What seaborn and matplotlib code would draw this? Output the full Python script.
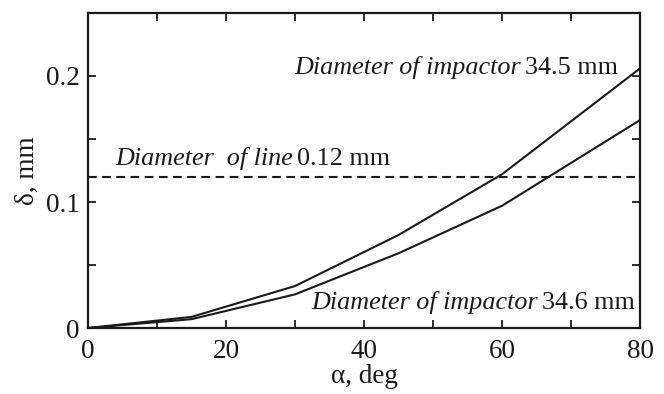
import numpy as np
import pandas as pd
import matplotlib
matplotlib.use('Agg')
import matplotlib.pyplot as plt
import seaborn as sns
from matplotlib.ticker import MultipleLocator

# values
alpha = [0, 15, 30, 45, 60, 80]
delta_345 = [0, 0.0088, 0.0333, 0.0738, 0.122, 0.206]
delta_346 = [0, 0.0070, 0.0267, 0.0593, 0.097, 0.165]
line_diam = 0.12

df = pd.DataFrame({
    'alpha': alpha * 2,
    'delta': delta_345 + delta_346,
    'impactor': ['34.5'] * len(alpha) + ['34.6'] * len(alpha),
})

sns.set_style('ticks')
plt.rcParams['font.family'] = ['Liberation Serif']
ink = '#1a1a1a'
fs_tick = 19.5
fs_note = 18.8

fig = plt.figure(figsize=(6.64, 3.94), dpi=100)
ax = fig.add_axes([88 / 664, 1 - 328 / 394, 552 / 664, 315 / 394])

sns.lineplot(data=df, x='alpha', y='delta', units='impactor', estimator=None,
             color=ink, lw=1.5, ax=ax)
ax.axhline(line_diam, color=ink, lw=1.5, ls=(0, (4.2, 2.6)))

ax.set_xlim(0, 80)
ax.set_ylim(0, 0.25)
ax.xaxis.set_major_locator(MultipleLocator(20))
ax.xaxis.set_minor_locator(MultipleLocator(10))
ax.yaxis.set_major_locator(MultipleLocator(0.1))
ax.yaxis.set_minor_locator(MultipleLocator(0.05))
ax.xaxis.set_major_formatter(plt.FuncFormatter(lambda v, p: f'{v:g}'))
ax.yaxis.set_major_formatter(plt.FuncFormatter(lambda v, p: f'{v:g}'))
ax.tick_params(which='both', direction='in', top=True, right=True,
               length=6, width=1.3, color=ink, labelsize=fs_tick,
               labelcolor=ink)
ax.tick_params(axis='x', pad=8)
ax.tick_params(axis='y', pad=6)
for s in ax.spines.values():
    s.set_linewidth(1.6)
    s.set_color(ink)

ax.set_xlabel('α, deg', fontsize=fs_tick, color=ink, labelpad=0)
ax.set_ylabel('δ, mm', fontsize=fs_tick, color=ink, labelpad=4)


def label(x, y, italic, plain, ha):
    # italic part + upright part, sharing one baseline
    if ha == 'right':
        t = ax.text(x, y, plain, fontsize=fs_note, ha='right', va='bottom', color=ink)
        ax.annotate(italic, xy=(0, 0), xycoords=t, xytext=(-3, 0),
                    textcoords='offset points', fontsize=fs_note, style='italic',
                    ha='right', va='bottom', color=ink)
    else:
        t = ax.text(x, y, italic, fontsize=fs_note, ha='left', va='bottom',
                    style='italic', color=ink)
        ax.annotate(plain, xy=(1, 0), xycoords=t, xytext=(3, 0),
                    textcoords='offset points', fontsize=fs_note,
                    ha='left', va='bottom', color=ink)


label(76.8, 0.198, 'Diameter of impactor', '34.5 mm', 'right')
label(79.3, 0.0115, 'Diameter of impactor', '34.6 mm', 'right')
label(3.9, 0.1255, 'Diameter  of line', '0.12 mm', 'left')

fig.savefig('out.png', dpi=100)
